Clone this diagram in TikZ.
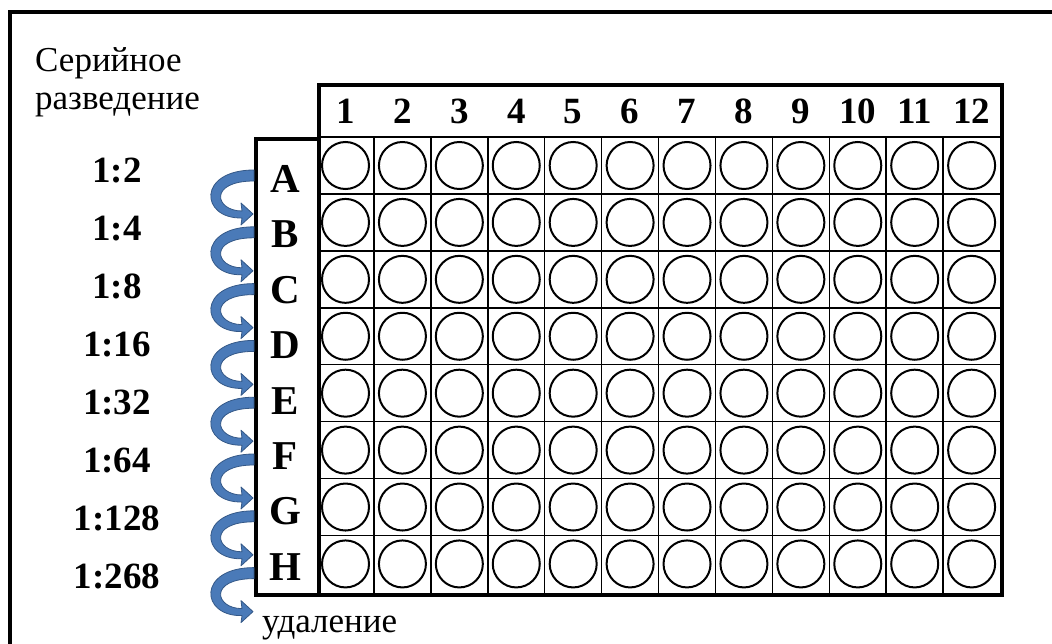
\documentclass[tikz,border=0pt]{standalone}
\usepackage{fontspec}
\setmainfont{Liberation Serif}
\usepackage{tikz}
\usetikzlibrary{arrows.meta, positioning, calc}
\definecolor{arrowblue}{RGB}{74,122,184}
\definecolor{arrowedge}{RGB}{52,88,135}

\begin{document}
\begin{tikzpicture}[x=1pt, y=-1pt,
  thickline/.style={line width=4pt},
  gridline/.style={line width=1.5pt},
  well/.style={line width=2pt},
  rowlbl/.style={font=\fontsize{41}{41}\selectfont\bfseries, inner sep=0pt},
  collbl/.style={font=\fontsize{37}{37}\selectfont\bfseries, inner sep=0pt},
  dillbl/.style={font=\fontsize{37}{37}\selectfont\bfseries, inner sep=0pt},
  plaintext/.style={font=\fontsize{35}{35}\selectfont, inner sep=0pt, anchor=base west},
  transfer/.style={fill=arrowblue, draw=arrowedge, line width=0.8pt, line join=round}]
  \useasboundingbox (0,0) rectangle (1052,644);
  % frame, cut off at the right and bottom
  \draw[thickline] (10,644) -- (10,12) -- (1052,12);

  \node[plaintext] (title1) at (35,72) {Серийное};
  \node[plaintext] (title2) at (35,110) {разведение};

  % plate and letter column
  \node[draw, thickline, anchor=north west, inner sep=0pt,
        minimum width=683pt, minimum height=510pt] (plate) at (317,83) {};
  \node[draw, thickline, anchor=north west, inner sep=0pt,
        minimum width=63pt, minimum height=456pt] (letters) at (254,137) {};

  % grid
  \draw[gridline] (317,137) -- (1000,137);
  \foreach \i in {1,...,7}
    \draw[gridline] (317,{137+56.92*\i}) -- (1000,{137+56.92*\i});
  \foreach \j in {1,...,11}
    \draw[gridline] ({317+56.92*\j},137) -- ({317+56.92*\j},593);

  % wells
  \foreach \i in {0,...,7}
    \foreach \j in {0,...,11}
      \draw[well] ({345.5+56.92*\j},{165.5+56.92*\i}) circle (23.5);

  % column numbers
  \foreach \j in {1,...,12}
    \node[collbl] (col\j) at ({345.5+56.92*(\j-1)},111.5) {\j};

  % row letters and dilutions
  \foreach \r [count=\i from 0] in {A,B,C,D,E,F,G,H}
    \node[rowlbl] (row\r) at (285.5,{179+55.4*\i}) {\r};
  \foreach \d [count=\i from 0] in {1:2,1:4,1:8,1:16,1:32,1:64,1:128,1:268}
    \node[dillbl] (dil\i) at (117,{170.5+58*\i}) {\d};

  \node[plaintext] (waste) at (262,632) {удаление};

  % transfer arrows, ribbon narrowing towards the head
  \foreach \i in {0,...,7} {
    \coordinate (src\i) at (254,{175.5+56.8*\i});
    \coordinate (dst\i) at (253,{214+56.8*\i});
    \draw[transfer] ($(src\i)+(0,-5.5)$)
      .. controls ($(src\i)+(-57,-5.5)$) and ($(dst\i)+(-53,5)$) .. ($(dst\i)+(-11,4)$)
      -- ($(dst\i)+(-12,11)$) -- (dst\i) -- ($(dst\i)+(-12,-11)$) -- ($(dst\i)+(-11,-3)$)
      .. controls ($(dst\i)+(-38,-3)$) and ($(src\i)+(-46,5.5)$) .. ($(src\i)+(0,5.5)$)
      -- cycle;
  }
\end{tikzpicture}
\end{document}
